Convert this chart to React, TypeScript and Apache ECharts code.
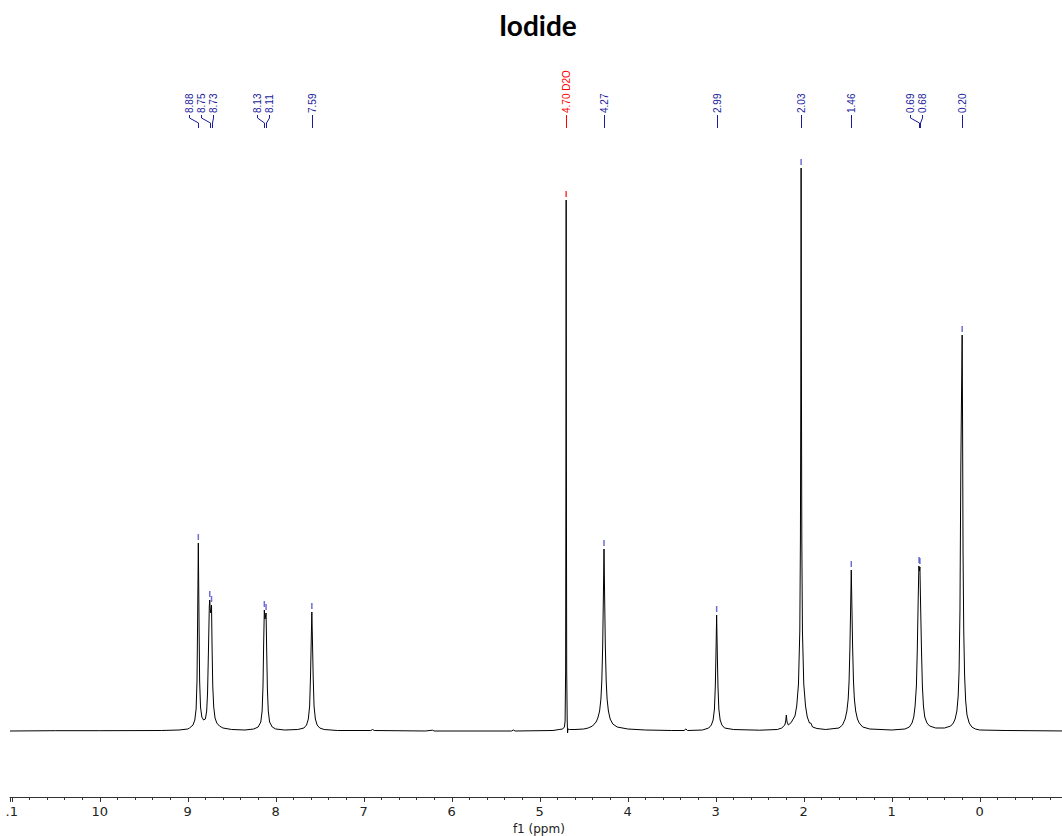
import React, { useEffect, useRef } from "react";
import * as echarts from "echarts";

const TITLE = "Iodide";
const AXIS_NAME = "f1 (ppm)";

// Peak picks (ppm), their heights (intensity units) and labels
const PEAK_PPM = [8.88, 8.75, 8.73, 8.13, 8.11, 7.59, 4.7, 4.27, 2.99, 2.03, 1.46, 0.69, 0.68, 0.2];
const PEAK_HEIGHT = [188, 131, 126, 121, 118, 119, 531, 182, 116, 563, 161, 165, 164, 396];
const PEAK_LABEL = ["8.88", "8.75", "8.73", "8.13", "8.11", "7.59", "4.70 D2O", "4.27", "2.99", "2.03", "1.46", "0.69", "0.68", "0.20"];
const PEAK_SOLVENT = [false, false, false, false, false, false, true, false, false, false, false, false, false, false];

// layout: pixel x of each rotated peak label in a crowded group (null = directly above its peak)
const LABEL_X: (number | null)[] = [189, 201, 213, 257, 269, null, null, null, null, null, null, 910, 922, null];

// Spectrum trace: [ppm, intensity]
const SEG_AROMATIC: number[][] = [
  [11.02, 0], [10.5, 0.3], [10.0, 0.3], [9.6, 0.4], [9.3, 0.5], [9.1, 1], [9.0, 2],
  [8.98, 3], [8.94, 6], [8.92, 11], [8.905, 22], [8.895, 50], [8.888, 110], [8.88, 188],
  [8.872, 110], [8.865, 50], [8.855, 24], [8.84, 14], [8.82, 11],
  [8.8, 12], [8.785, 20], [8.775, 38], [8.765, 80], [8.755, 125], [8.75, 131], [8.745, 122],
  [8.738, 118], [8.73, 126], [8.724, 85], [8.716, 45], [8.705, 24], [8.69, 13], [8.67, 8],
  [8.64, 5], [8.6, 3], [8.5, 1.5], [8.35, 1], [8.25, 2],
  [8.2, 4], [8.17, 9], [8.155, 20], [8.145, 45], [8.138, 85], [8.13, 121], [8.122, 112],
  [8.11, 118], [8.103, 80], [8.095, 42], [8.085, 20], [8.07, 9], [8.04, 4], [8.0, 2],
  [7.9, 1], [7.75, 1.5], [7.68, 3],
  [7.65, 6], [7.63, 12], [7.615, 25], [7.605, 55], [7.597, 90], [7.59, 119], [7.583, 90],
  [7.575, 55], [7.565, 25], [7.55, 12], [7.53, 6], [7.5, 3], [7.45, 1.5], [7.3, 0.5],
];
const SEG_MIDDLE: number[][] = [
  [6.92, 0.5], [6.9, 1.5], [6.88, 0.5], [6.3, 0], [6.22, 0.8], [6.2, 0], [5.32, 0], [5.3, 1],
  [5.28, 0], [4.85, 0.5], [4.78, 1.5],
  [4.74, 2], [4.72, 4], [4.712, 10], [4.706, 60], [4.702, 300], [4.7, 531], [4.698, 300],
  [4.694, 60], [4.688, 10], [4.684, -2], [4.68, 2], [4.66, 1.5], [4.6, 1.5], [4.5, 2],
  [4.45, 3], [4.4, 5], [4.36, 9],
  [4.34, 13], [4.32, 20], [4.305, 32], [4.295, 50], [4.285, 85], [4.277, 135], [4.27, 182],
  [4.263, 135], [4.255, 85], [4.245, 50], [4.235, 32], [4.22, 20], [4.2, 12], [4.17, 7],
  [4.12, 4], [4.0, 2], [3.8, 1], [3.5, 0.5], [3.36, 0.5], [3.34, 2], [3.32, 0.5], [3.15, 1],
  [3.08, 3],
  [3.05, 6], [3.03, 11], [3.015, 22], [3.005, 45], [2.997, 80], [2.99, 116], [2.983, 80],
  [2.975, 45], [2.965, 22], [2.95, 11], [2.93, 6], [2.9, 3], [2.8, 1.5], [2.5, 0.8],
];
const SEG_ALIPHATIC: number[][] = [
  [2.3, 1.5], [2.25, 3], [2.215, 6], [2.205, 10], [2.198, 16], [2.19, 9], [2.175, 6],
  [2.16, 7], [2.14, 9], [2.12, 12], [2.1, 15], [2.08, 25], [2.06, 47], [2.045, 100],
  [2.038, 190], [2.034, 330], [2.03, 563], [2.026, 330], [2.022, 190], [2.015, 100],
  [2.0, 47], [1.98, 25], [1.96, 14], [1.935, 8], [1.92, 8], [1.9, 4], [1.85, 2.5],
  [1.75, 1.5], [1.6, 3], [1.56, 6],
  [1.53, 12], [1.51, 20], [1.495, 32], [1.485, 50], [1.475, 85], [1.467, 125], [1.46, 161],
  [1.453, 125], [1.445, 85], [1.435, 50], [1.425, 32], [1.41, 20], [1.39, 12], [1.37, 8],
  [1.33, 4], [1.25, 2], [1.0, 1], [0.85, 2], [0.8, 4], [0.77, 8],
  [0.75, 14], [0.735, 25], [0.72, 45], [0.71, 80], [0.7, 130], [0.692, 165], [0.685, 160],
  [0.68, 164], [0.672, 125], [0.662, 80], [0.652, 45], [0.64, 25], [0.625, 14], [0.6, 8],
  [0.57, 5], [0.5, 3], [0.4, 3], [0.33, 5], [0.3, 8],
  [0.28, 12], [0.26, 20], [0.245, 35], [0.235, 60], [0.225, 120], [0.215, 265], [0.208, 330],
  [0.2, 396], [0.195, 300], [0.19, 180], [0.182, 100], [0.172, 55], [0.16, 30], [0.145, 16],
  [0.12, 8], [0.09, 4], [0.05, 2], [0.0, 1], [-0.3, 0.5], [-1, 0],
];

const BLUE = "#1a1a9c";
const TICK_BLUE = "#4a4ac8";
const RED = "#ff0000";

export default function App() {
  const ref = useRef<HTMLDivElement>(null);
  useEffect(() => {
    document.body.style.margin = "0";
    if (!ref.current) return;
    const chart = echarts.init(ref.current, undefined, { renderer: "svg" });
    const spectrum = [...SEG_AROMATIC, ...SEG_MIDDLE, ...SEG_ALIPHATIC];
    chart.setOption({
      animation: false,
      backgroundColor: "#ffffff",
      title: {
        text: TITLE,
        left: 494,
        top: 6,
        textStyle: { fontFamily: "Lato", fontWeight: "bold", fontSize: 28, color: "#000" },
      },
      grid: {
        left: 10,
        right: -5.76,
        top: 131,
        bottom: 39,
        containLabel: false,
        outerBoundsMode: "none",
      },
      xAxis: {
        type: "value",
        inverse: true,
        min: -1,
        max: 11.02,
        interval: 1,
        name: AXIS_NAME,
        nameLocation: "middle",
        nameGap: 23,
        nameTextStyle: { fontFamily: "DejaVu Sans", fontSize: 12, color: "#222" },
        axisLine: { show: true, onZero: false, lineStyle: { color: "#333", width: 1 } },
        axisTick: { show: true, length: 5, lineStyle: { color: "#333" } },
        minorTick: { show: true, splitNumber: 5, length: 3, lineStyle: { color: "#333" } },
        splitLine: { show: false },
        axisLabel: {
          margin: 8,
          fontFamily: "DejaVu Sans",
          fontSize: 13,
          color: "#222",
          formatter: (v: number) => (v === 11 ? ".1" : v < 0 ? "" : String(v)),
        },
      },
      yAxis: { type: "value", min: -66, max: 600, show: false },
      series: [
        {
          type: "line",
          data: spectrum,
          showSymbol: false,
          symbol: "none",
          lineStyle: { color: "#000", width: 1 },
          z: 2,
        },
        {
          type: "scatter",
          data: PEAK_PPM.map((p, i) => ({
            value: [p, PEAK_HEIGHT[i]],
            itemStyle: { color: PEAK_SOLVENT[i] ? RED : TICK_BLUE },
          })),
          symbol: "rect",
          symbolSize: [1.5, 6],
          symbolOffset: [0, -6],
          z: 3,
        },
      ],
    });

    const graphics: any[] = [];
    PEAK_PPM.forEach((p, i) => {
      const px = Math.round(chart.convertToPixel({ xAxisIndex: 0 }, p) as number) + 0.5;
      const lxRaw = LABEL_X[i];
      const lx = lxRaw == null ? px : lxRaw + 0.5;
      const color = PEAK_SOLVENT[i] ? RED : BLUE;
      graphics.push({
        type: "text",
        x: lx,
        y: 113,
        rotation: Math.PI / 2,
        style: {
          text: PEAK_LABEL[i],
          fill: color,
          font: '10px "Liberation Sans"',
          textAlign: "left",
          textVerticalAlign: "middle",
          align: "left",
          verticalAlign: "middle",
        },
      });
      graphics.push({
        type: "polyline",
        shape: { points: [[lx, 115], [lx, 118], [px, 123], [px, 128]] },
        style: { stroke: color, lineWidth: 1, fill: "none" },
      });
    });
    chart.setOption({ graphic: graphics });

    return () => chart.dispose();
  }, []);
  return <div ref={ref} style={{ width: 1062, height: 836 }} />;
}
